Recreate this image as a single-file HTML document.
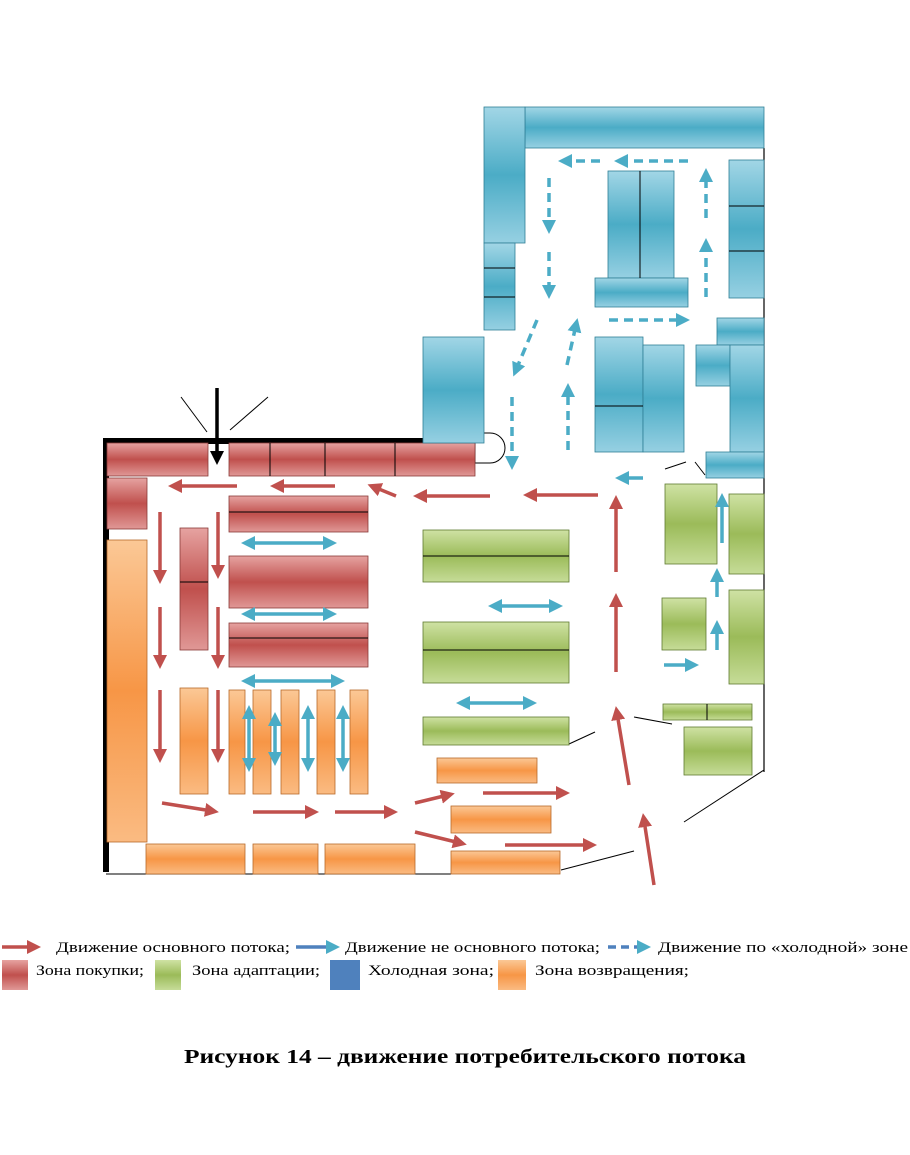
<!DOCTYPE html>
<html><head><meta charset="utf-8"><style>
html,body{margin:0;padding:0;background:#fff;width:910px;height:1155px;overflow:hidden}
svg{display:block}
</style></head><body>
<svg width="910" height="1155" viewBox="0 0 910 1155" xmlns="http://www.w3.org/2000/svg">
<defs>
<linearGradient id="rH" x1="0" y1="0" x2="0" y2="1"><stop offset="0" stop-color="#e6a3a1"/><stop offset=".5" stop-color="#c0504d"/><stop offset="1" stop-color="#e09896"/></linearGradient>
<linearGradient id="gH" x1="0" y1="0" x2="0" y2="1"><stop offset="0" stop-color="#cfe2a4"/><stop offset=".5" stop-color="#9bbb59"/><stop offset="1" stop-color="#c6dc98"/></linearGradient>
<linearGradient id="bH" x1="0" y1="0" x2="0" y2="1"><stop offset="0" stop-color="#a2d6e6"/><stop offset=".5" stop-color="#4bacc6"/><stop offset="1" stop-color="#96d0e2"/></linearGradient>
<linearGradient id="oH" x1="0" y1="0" x2="0" y2="1"><stop offset="0" stop-color="#fbc896"/><stop offset=".5" stop-color="#f79646"/><stop offset="1" stop-color="#fabb82"/></linearGradient>
<marker id="mr" markerWidth="4" markerHeight="4" refX="2" refY="2" orient="auto" markerUnits="strokeWidth"><path d="M0,0 L4,2 L0,4 z" fill="#c0504d"/></marker>
<marker id="mb" markerWidth="4" markerHeight="4" refX="2" refY="2" orient="auto" markerUnits="strokeWidth"><path d="M0,0 L4,2 L0,4 z" fill="#4bacc6"/></marker>
<marker id="mbs" markerWidth="4" markerHeight="4" refX="2" refY="2" orient="auto-start-reverse" markerUnits="strokeWidth"><path d="M0,0 L4,2 L0,4 z" fill="#4bacc6"/></marker>
<marker id="mk" markerWidth="4" markerHeight="4" refX="2" refY="2" orient="auto" markerUnits="strokeWidth"><path d="M0,0 L4,2 L0,4 z" fill="#000"/></marker>
</defs>

<path d="M106,872 L106,441 L427,441" fill="none" stroke="#000" stroke-width="6"/>
<line x1="106" y1="874" x2="451" y2="874" stroke="#000" stroke-width="1"/>
<line x1="764" y1="148" x2="764" y2="772" stroke="#000" stroke-width="1.2"/>
<g stroke="#000" stroke-width="1" fill="none">
<line x1="181" y1="397" x2="207" y2="432"/><line x1="268" y1="397" x2="230" y2="430"/>
<line x1="569" y1="744" x2="595" y2="732"/><line x1="634" y1="717" x2="672" y2="724"/>
<line x1="764" y1="770" x2="684" y2="822"/><line x1="561" y1="870" x2="634" y2="851"/>
<line x1="665" y1="469" x2="686" y2="462"/><line x1="695" y1="462" x2="705" y2="475"/>
<path d="M475,433 L490,433 A15,15 0 0 1 490,463 L475,463 z" fill="#fff"/>
</g>

<g stroke="#8a3a38" stroke-width="0.8" fill="url(#rH)">
<rect x="107" y="443" width="101" height="33"/>
<rect x="229" y="443" width="246" height="33"/>
<rect x="107" y="478" width="40" height="51"/>
<rect x="229" y="496" width="139" height="36"/>
<rect x="229" y="556" width="139" height="52"/>
<rect x="229" y="623" width="139" height="44"/>
<rect x="180" y="528" width="28" height="122"/>
</g>
<g stroke="#000" stroke-width="1">
<line x1="270" y1="443" x2="270" y2="476"/><line x1="325" y1="443" x2="325" y2="476"/><line x1="395" y1="443" x2="395" y2="476"/>
<line x1="229" y1="512" x2="368" y2="512"/><line x1="229" y1="638" x2="368" y2="638"/><line x1="180" y1="582" x2="208" y2="582"/>
</g>

<g stroke="#b86a2a" stroke-width="0.8" fill="url(#oH)">
<rect x="107" y="540" width="40" height="302"/>
<rect x="180" y="688" width="28" height="106"/>
<rect x="229" y="690" width="16" height="104"/>
<rect x="253" y="690" width="18" height="104"/>
<rect x="281" y="690" width="18" height="104"/>
<rect x="317" y="690" width="18" height="104"/>
<rect x="350" y="690" width="18" height="104"/>
<rect x="146" y="844" width="99" height="30"/>
<rect x="253" y="844" width="65" height="30"/>
<rect x="325" y="844" width="90" height="30"/>
<rect x="437" y="758" width="100" height="25"/>
<rect x="451" y="806" width="100" height="27"/>
<rect x="451" y="851" width="109" height="23"/>
</g>

<g stroke="#5f7a30" stroke-width="0.8" fill="url(#gH)">
<rect x="423" y="530" width="146" height="52"/>
<rect x="423" y="622" width="146" height="61"/>
<rect x="423" y="717" width="146" height="28"/>
<rect x="665" y="484" width="52" height="80"/>
<rect x="729" y="494" width="35" height="80"/>
<rect x="662" y="598" width="44" height="52"/>
<rect x="729" y="590" width="35" height="94"/>
<rect x="663" y="704" width="89" height="16"/>
<rect x="684" y="727" width="68" height="48"/>
</g>
<g stroke="#000" stroke-width="1">
<line x1="423" y1="556" x2="569" y2="556"/><line x1="423" y1="650" x2="569" y2="650"/><line x1="707" y1="704" x2="707" y2="720"/>
</g>

<g stroke="#2f7f96" stroke-width="0.8" fill="url(#bH)">
<rect x="525" y="107" width="239" height="41"/>
<rect x="484" y="107" width="41" height="136"/>
<rect x="484" y="243" width="31" height="87"/>
<rect x="423" y="337" width="61" height="106"/>
<rect x="608" y="171" width="32" height="107"/>
<rect x="640" y="171" width="34" height="107"/>
<rect x="595" y="278" width="93" height="29"/>
<rect x="595" y="337" width="48" height="115"/>
<rect x="643" y="345" width="41" height="107"/>
<rect x="729" y="160" width="35" height="138"/>
<rect x="717" y="318" width="47" height="27"/>
<rect x="696" y="345" width="34" height="41"/>
<rect x="730" y="345" width="34" height="107"/>
<rect x="706" y="452" width="58" height="26"/>
</g>
<g stroke="#000" stroke-width="1">
<line x1="484" y1="268" x2="515" y2="268"/><line x1="484" y1="297" x2="515" y2="297"/>
<line x1="729" y1="206" x2="764" y2="206"/><line x1="729" y1="251" x2="764" y2="251"/>
<line x1="595" y1="406" x2="643" y2="406"/><line x1="640" y1="171" x2="640" y2="278"/>
</g>

<line x1="217" y1="388" x2="217" y2="458" stroke="#000" stroke-width="3.5" marker-end="url(#mk)"/>

<g stroke="#c0504d" stroke-width="3.5" marker-end="url(#mr)" fill="none">
<line x1="237" y1="486" x2="175" y2="486"/><line x1="335" y1="486" x2="277" y2="486"/>
<line x1="396" y1="496" x2="374" y2="487"/><line x1="490" y1="496" x2="420" y2="496"/>
<line x1="598" y1="495" x2="530" y2="495"/>
<line x1="160" y1="512" x2="160" y2="577"/><line x1="160" y1="607" x2="160" y2="662"/><line x1="160" y1="690" x2="160" y2="756"/>
<line x1="218" y1="512" x2="218" y2="572"/><line x1="218" y1="607" x2="218" y2="662"/><line x1="218" y1="690" x2="218" y2="756"/>
<line x1="162" y1="803" x2="212" y2="811"/><line x1="253" y1="812" x2="312" y2="812"/><line x1="335" y1="812" x2="391" y2="812"/>
<line x1="415" y1="803" x2="448" y2="795"/><line x1="483" y1="793" x2="563" y2="793"/>
<line x1="415" y1="832" x2="460" y2="843"/><line x1="505" y1="845" x2="590" y2="845"/>
<line x1="616" y1="572" x2="616" y2="502"/><line x1="616" y1="672" x2="616" y2="600"/>
<line x1="629" y1="785" x2="617" y2="713"/><line x1="654" y1="885" x2="644" y2="820"/>
</g>

<g stroke="#4bacc6" stroke-width="3.5" fill="none">
<g marker-start="url(#mbs)" marker-end="url(#mbs)">
<line x1="248" y1="543" x2="330" y2="543"/><line x1="248" y1="614" x2="330" y2="614"/>
<line x1="248" y1="681" x2="338" y2="681"/><line x1="495" y1="606" x2="556" y2="606"/>
<line x1="463" y1="703" x2="530" y2="703"/>
<line x1="249" y1="712" x2="249" y2="765"/><line x1="275" y1="719" x2="275" y2="759"/>
<line x1="308" y1="712" x2="308" y2="765"/><line x1="343" y1="712" x2="343" y2="765"/>
</g>
<g marker-end="url(#mb)">
<line x1="643" y1="478" x2="622" y2="478"/><line x1="722" y1="543" x2="722" y2="500"/>
<line x1="717" y1="597" x2="717" y2="575"/><line x1="717" y1="650" x2="717" y2="627"/>
<line x1="664" y1="665" x2="692" y2="665"/>
</g>
<g marker-end="url(#mb)" stroke-dasharray="9,6">
<line x1="600" y1="161" x2="565" y2="161"/><line x1="688" y1="161" x2="621" y2="161"/>
<line x1="549" y1="178" x2="549" y2="227"/><line x1="549" y1="252" x2="549" y2="292"/>
<line x1="706" y1="297" x2="706" y2="245"/><line x1="706" y1="218" x2="706" y2="175"/>
<line x1="609" y1="320" x2="683" y2="320"/>
<line x1="537" y1="320" x2="516" y2="370"/><line x1="512" y1="397" x2="512" y2="463"/>
<line x1="567" y1="365" x2="576" y2="325"/><line x1="568" y1="450" x2="568" y2="390"/>
</g>
</g>

<g font-family="'Liberation Serif','DejaVu Serif',serif" font-size="15" fill="#000">
<line x1="2" y1="947" x2="34" y2="947" stroke="#c0504d" stroke-width="3.5" marker-end="url(#mr)"/>
<text x="56" y="952" textLength="234" lengthAdjust="spacingAndGlyphs">Движение основного потока;</text>
<line x1="296" y1="947" x2="333" y2="947" stroke="#4f81bd" stroke-width="3.5" marker-end="url(#mb)"/>
<text x="345" y="952" textLength="255" lengthAdjust="spacingAndGlyphs">Движение не основного потока;</text>
<line x1="608" y1="947" x2="644" y2="947" stroke="#4f81bd" stroke-width="3.5" stroke-dasharray="8,5" marker-end="url(#mb)"/>
<text x="658" y="952" textLength="250" lengthAdjust="spacingAndGlyphs">Движение по «холодной» зоне</text>
<rect x="2" y="960" width="26" height="30" fill="url(#rH)"/>
<text x="36" y="975" textLength="108" lengthAdjust="spacingAndGlyphs">Зона покупки;</text>
<rect x="155" y="960" width="26" height="30" fill="url(#gH)"/>
<text x="192" y="975" textLength="128" lengthAdjust="spacingAndGlyphs">Зона адаптации;</text>
<rect x="330" y="960" width="30" height="30" fill="#4f81bd"/>
<text x="368" y="975" textLength="126" lengthAdjust="spacingAndGlyphs">Холодная зона;</text>
<rect x="498" y="960" width="28" height="30" fill="url(#oH)"/>
<text x="535" y="975" textLength="154" lengthAdjust="spacingAndGlyphs">Зона возвращения;</text>
<text x="184" y="1063" font-size="20" font-weight="bold" textLength="562" lengthAdjust="spacingAndGlyphs">Рисунок 14 – движение потребительского потока</text>
</g>
</svg>
</body></html>
